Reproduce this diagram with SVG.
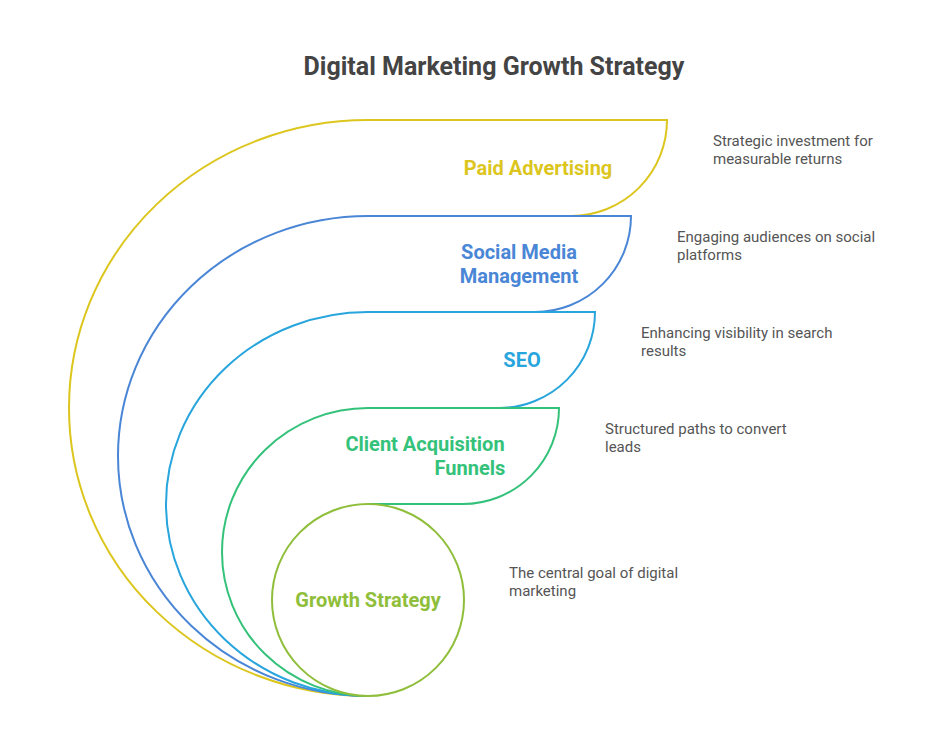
<svg xmlns="http://www.w3.org/2000/svg" width="950" height="756" viewBox="0 0 950 756">
<style>
.s{fill:#fff;stroke-width:2}
.l{font-family:Roboto,"Liberation Sans",sans-serif;font-weight:bold;font-size:20px;text-anchor:middle}
.d{font-family:Roboto,"Liberation Sans",sans-serif;font-size:15px;fill:#555}
</style>
<rect width="950" height="756" fill="#fff"/>
<text x="494" y="75" text-anchor="middle" font-family="Roboto,'Liberation Sans',sans-serif" font-weight="bold" font-size="25" fill="#444">Digital Marketing Growth Strategy</text>
<g id="paid">
<path class="s" stroke="#dcc61e" d="M368 696 A299 288 0 0 1 368 120 L667 120 A96 96 0 0 1 571 216 L368 216 Z"/>
<text class="l" x="538" y="175" fill="#dcc61e">Paid Advertising</text>
<text class="d" x="713" y="146">Strategic investment for</text><text class="d" x="713" y="164">measurable returns</text>
</g>
<g id="social">
<path class="s" stroke="#4a86d6" d="M368 696 A250 240 0 0 1 368 216 L631 216 A96 96 0 0 1 535 312 L368 312 Z"/>
<text class="l" x="519" y="259" fill="#4a86d6">Social Media</text><text class="l" x="519" y="283" fill="#4a86d6">Management</text>
<text class="d" x="677" y="242">Engaging audiences on social</text><text class="d" x="677" y="260">platforms</text>
</g>
<g id="seo">
<path class="s" stroke="#27a5dc" d="M368 696 A202 192 0 0 1 368 312 L595 312 A96 96 0 0 1 499 408 L368 408 Z"/>
<text class="l" x="522" y="367" fill="#27a5dc">SEO</text>
<text class="d" x="641" y="338">Enhancing visibility in search</text><text class="d" x="641" y="356">results</text>
</g>
<g id="funnels">
<path class="s" stroke="#34c27a" d="M368 696 A146 144 0 0 1 368 408 L559 408 A96 96 0 0 1 463 504 L368 504 Z"/>
<text class="l" x="425" y="451" fill="#34c27a">Client Acquisition</text><text class="l" x="470" y="475" fill="#34c27a">Funnels</text>
<text class="d" x="605" y="434">Structured paths to convert</text><text class="d" x="605" y="452">leads</text>
</g>
<g id="growth">
<circle class="s" stroke="#8fbe3a" cx="368" cy="600" r="96"/>
<text class="l" x="368" y="607" fill="#8fbe3a">Growth Strategy</text>
<text class="d" x="509" y="578">The central goal of digital</text><text class="d" x="509" y="596">marketing</text>
</g>
<g id="connectors"/>
</svg>
